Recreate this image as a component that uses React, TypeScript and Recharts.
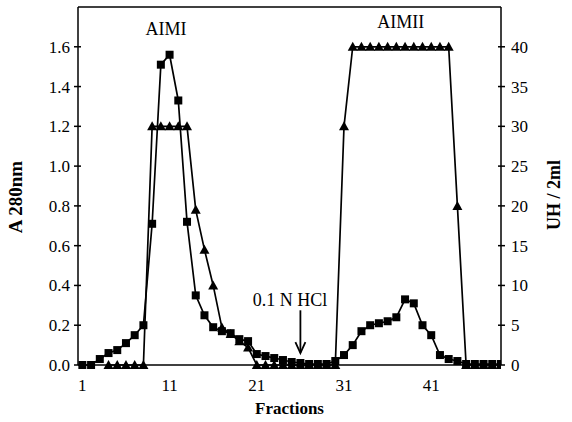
import React from 'react';
import {
  ComposedChart,
  Line,
  XAxis,
  YAxis,
  ReferenceLine,
  ReferenceDot,
} from 'recharts';

const fractions = [
  1, 2, 3, 4, 5, 6, 7, 8, 9, 10, 11, 12, 13, 14, 15, 16, 17, 18, 19, 20, 21, 22, 23, 24, 25,
  26, 27, 28, 29, 30, 31, 32, 33, 34, 35, 36, 37, 38, 39, 40, 41, 42, 43, 44, 45, 46, 47, 48, 49,
];

// A 280nm (squares, left axis)
const a280 = [
  0, 0, 0.03, 0.06, 0.075, 0.11, 0.15, 0.2, 0.71, 1.51, 1.56, 1.33, 0.72, 0.35, 0.25, 0.19, 0.17,
  0.16, 0.13, 0.12, 0.055, 0.045, 0.035, 0.025, 0.015, 0.01, 0.005, 0.005, 0.005, 0.02, 0.05, 0.1,
  0.17, 0.2, 0.21, 0.22, 0.24, 0.33, 0.31, 0.2, 0.15, 0.05, 0.03, 0.02, 0.005, 0.005, 0.005, 0.005,
  0.005,
];

// UH / 2ml (triangles, right axis)
const uh = [
  null, null, null, 0, 0, 0, 0, 0, 30, 30, 30, 30, 30, 19.5, 14.5, 10, 4.7, 3.9, 3, 2.2, 0, 0, 0,
  0, 0, 0, 0, 0, 0, 0, 30, 40, 40, 40, 40, 40, 40, 40, 40, 40, 40, 40, 40, 20, 0, 0, 0, 0, 0,
];

const xTicks = [1, 11, 21, 31, 41];
const leftTicks = [0, 0.2, 0.4, 0.6, 0.8, 1.0, 1.2, 1.4, 1.6];
const rightTicks = [0, 5, 10, 15, 20, 25, 30, 35, 40];

const data = fractions.map((f, i) => ({ fraction: f, a280: a280[i], uh: uh[i] }));

const FONT = '"Liberation Serif", "DejaVu Serif", serif';

const LeftTick = (props: any) => {
  const { x, y, payload } = props;
  return (
    <g>
      <line x1={x - 4} x2={x + 3} y1={y} y2={y} stroke="#000" strokeWidth={1.5} />
      <text x={x - 8} y={y} dy="0.35em" textAnchor="end" fontFamily={FONT} fontSize={17} fill="#000">
        {Number(payload.value).toFixed(1)}
      </text>
    </g>
  );
};

const RightTick = (props: any) => {
  const { x, y, payload } = props;
  return (
    <g>
      <line x1={x - 3} x2={x + 4} y1={y} y2={y} stroke="#000" strokeWidth={1.5} />
      <text x={x + 10} y={y} dy="0.35em" textAnchor="start" fontFamily={FONT} fontSize={17} fill="#000">
        {payload.value}
      </text>
    </g>
  );
};

const BottomTick = (props: any) => {
  const { x, y, payload } = props;
  return (
    <text x={x} y={y + 20} dy="0.35em" textAnchor="middle" fontFamily={FONT} fontSize={17} fill="#000">
      {payload.value}
    </text>
  );
};

const SquareDot = (props: any) => {
  const { cx, cy, index } = props;
  if (cx == null || cy == null || isNaN(cy)) return <g key={`s-${index}`} />;
  return <rect key={`s-${index}`} x={cx - 4} y={cy - 4} width={8} height={8} fill="#000" />;
};

const TriangleDot = (props: any) => {
  const { cx, cy, index } = props;
  if (cx == null || cy == null || isNaN(cy)) return <g key={`t-${index}`} />;
  return (
    <polygon
      key={`t-${index}`}
      points={`${cx},${cy - 5} ${cx - 5},${cy + 4} ${cx + 5},${cy + 4}`}
      fill="#000"
    />
  );
};

const TextMark = (text: string, size: number) => (props: any) => (
  <text x={props.cx} y={props.cy} dy="0.35em" textAnchor="middle" fontFamily={FONT} fontSize={size} fill="#000">
    {text}
  </text>
);

const ArrowHead = (props: any) => {
  const { cx, cy } = props;
  return (
    <path
      d={`M${cx - 5},${cy - 11} L${cx},${cy} L${cx + 5},${cy - 11}`}
      stroke="#000"
      strokeWidth={1.8}
      fill="none"
    />
  );
};

export default function App() {
  return (
    <div style={{ position: 'absolute', left: 0, top: 0, width: 572, height: 422, background: '#fff' }}>
      <ComposedChart width={572} height={422} data={data} margin={{ top: 7, right: 0, left: 0, bottom: 0 }}>
        <XAxis
          dataKey="fraction"
          type="number"
          domain={[0.5, 49]}
          ticks={xTicks}
          allowDataOverflow
          height={57}
          tick={<BottomTick />}
          tickLine={false}
          tickSize={0}
          tickMargin={0}
          axisLine={{ stroke: '#000', strokeWidth: 1.5 }}
          label={{
            value: 'Fractions',
            position: 'insideBottom',
            offset: 8,
            fontFamily: FONT,
            fontSize: 17,
            fontWeight: 'bold',
            fill: '#000',
          }}
        />
        <YAxis
          yAxisId="left"
          orientation="left"
          domain={[0, 1.8]}
          ticks={leftTicks}
          width={78}
          tick={<LeftTick />}
          tickLine={false}
          tickSize={0}
          tickMargin={0}
          axisLine={{ stroke: '#000', strokeWidth: 1.5 }}
          label={{
            content: () => (
              <text
                transform="translate(22,197) rotate(-90)"
                textAnchor="middle"
                fontFamily={FONT}
                fontSize={19}
                fontWeight="bold"
                fill="#000"
              >
                A 280nm
              </text>
            ),
          }}
        />
        <YAxis
          yAxisId="right"
          orientation="right"
          domain={[0, 45]}
          ticks={rightTicks}
          width={71}
          tick={<RightTick />}
          tickLine={false}
          tickSize={0}
          tickMargin={0}
          axisLine={{ stroke: '#000', strokeWidth: 1.5 }}
          label={{
            content: () => (
              <text
                transform="translate(560,195) rotate(-90)"
                textAnchor="middle"
                fontFamily={FONT}
                fontSize={18}
                fontWeight="bold"
                fill="#000"
              >
                UH / 2ml
              </text>
            ),
          }}
        />
        <ReferenceLine yAxisId="left" y={1.8} stroke="#000" strokeWidth={1.5} />
        <Line
          yAxisId="left"
          dataKey="a280"
          stroke="#000"
          strokeWidth={1.7}
          dot={SquareDot}
          activeDot={false}
          isAnimationActive={false}
        />
        <Line
          yAxisId="right"
          dataKey="uh"
          stroke="#000"
          strokeWidth={1.7}
          dot={TriangleDot}
          activeDot={false}
          connectNulls={false}
          isAnimationActive={false}
        />
        <ReferenceDot yAxisId="left" x={10.6} y={1.69} r={0} shape={TextMark('AIMI', 18)} />
        <ReferenceDot yAxisId="left" x={37.5} y={1.725} r={0} shape={TextMark('AIMII', 18)} />
        <ReferenceDot yAxisId="left" x={24.8} y={0.33} r={0} shape={TextMark('0.1 N HCl', 18)} />
        <ReferenceLine
          yAxisId="left"
          segment={[
            { x: 26, y: 0.275 },
            { x: 26, y: 0.062 },
          ]}
          stroke="#000"
          strokeWidth={1.8}
        />
        <ReferenceDot yAxisId="left" x={26} y={0.06} r={0} shape={ArrowHead} />
      </ComposedChart>
    </div>
  );
}
